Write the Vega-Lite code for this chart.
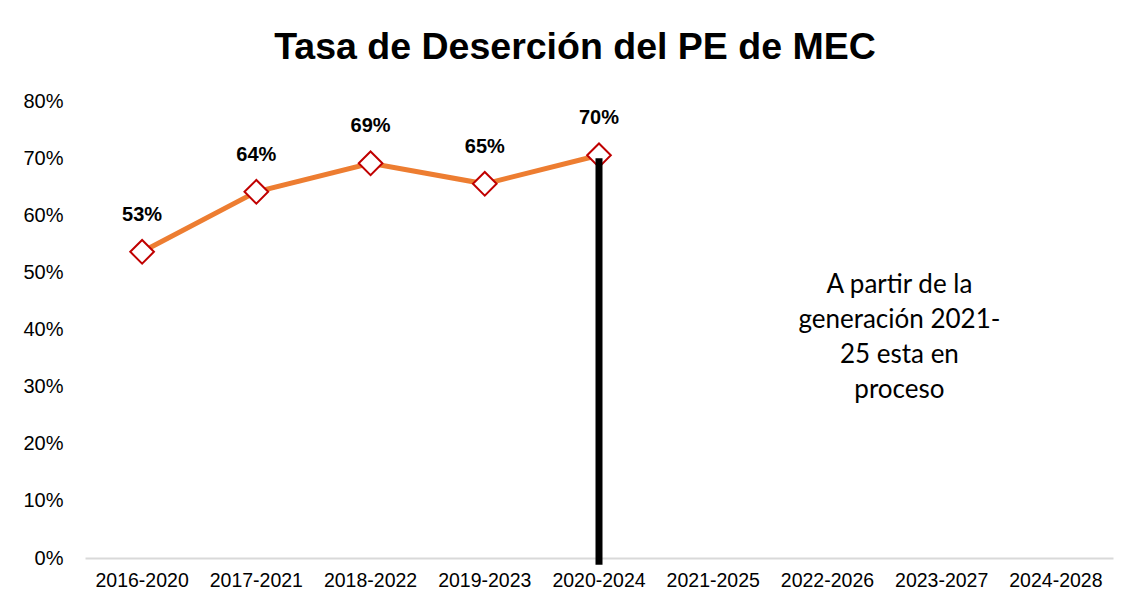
{
  "$schema": "https://vega.github.io/schema/vega-lite/v6.json",
  "autosize": {"type": "none"},
  "width": 1028,
  "height": 457,
  "padding": {"left": 85, "top": 101, "right": 22, "bottom": 56},
  "background": "white",
  "config": {"view": {"stroke": null}, "font": "Liberation Sans"},
  "title": {
    "text": "Tasa de Deserción del PE de MEC",
    "font": "Liberation Sans",
    "fontSize": 37.5,
    "fontWeight": "bold",
    "color": "#000000",
    "anchor": "middle",
    "baseline": "alphabetic",
    "offset": -5,
    "dx": -24
  },
  "datasets": {
    "main": [
      {"gen": "2016-2020", "tasa": 53.6, "label": "53%"},
      {"gen": "2017-2021", "tasa": 64.1, "label": "64%"},
      {"gen": "2018-2022", "tasa": 69.1, "label": "69%"},
      {"gen": "2019-2023", "tasa": 65.5, "label": "65%"},
      {"gen": "2020-2024", "tasa": 70.5, "label": "70%"},
      {"gen": "2021-2025"},
      {"gen": "2022-2026"},
      {"gen": "2023-2027"},
      {"gen": "2024-2028"}
    ],
    "bar": [{"gen": "2020-2024", "top": 70.0, "bottom": -1.2}],
    "note": [{"gen": "2023-2027", "y": 47.8, "text": "A partir de la\ngeneración 2021-\n25 esta en\nproceso"}]
  },
  "encoding": {
    "x": {
      "field": "gen",
      "type": "nominal",
      "sort": null,
      "scale": {"domain": ["2016-2020","2017-2021","2018-2022","2019-2023","2020-2024","2021-2025","2022-2026","2023-2027","2024-2028"], "paddingInner": 0, "paddingOuter": 0},
      "axis": {
        "title": null,
        "labelAngle": 0,
        "labelFont": "Liberation Sans",
        "labelFontSize": 19.5,
        "labelColor": "#000000",
        "labelPadding": 13,
        "ticks": false,
        "domainColor": "#d9d9d9",
        "domainWidth": 2,
        "grid": false
      }
    }
  },
  "layer": [
    {
      "data": {"name": "main"},
      "mark": {"type": "line", "color": "#ED7D31", "strokeWidth": 5},
      "encoding": {
        "y": {
          "field": "tasa",
          "type": "quantitative",
          "scale": {"domain": [0, 80], "nice": false},
          "axis": {
            "title": null,
            "values": [0, 10, 20, 30, 40, 50, 60, 70, 80],
            "labelExpr": "datum.value + '%'",
            "labelFont": "Liberation Sans",
            "labelFontSize": 20,
            "labelColor": "#000000",
            "labelPadding": 22,
            "ticks": false,
            "domain": false,
            "grid": false
          }
        }
      }
    },
    {
      "data": {"name": "main"},
      "mark": {"type": "point", "shape": "diamond", "filled": true, "fill": "#ffffff", "stroke": "#C00000", "strokeWidth": 2, "size": 560, "opacity": 1},
      "encoding": {"y": {"field": "tasa", "type": "quantitative"}}
    },
    {
      "data": {"name": "main"},
      "mark": {"type": "text", "font": "Liberation Sans", "fontSize": 20, "fontWeight": "bold", "color": "#000000", "baseline": "middle", "dy": -37},
      "encoding": {"y": {"field": "tasa", "type": "quantitative"}, "text": {"field": "label"}}
    },
    {
      "data": {"name": "bar"},
      "mark": {"type": "rule", "color": "#000000", "strokeWidth": 7, "clip": false},
      "encoding": {
        "y": {"field": "top", "type": "quantitative"},
        "y2": {"field": "bottom"}
      }
    },
    {
      "data": {"name": "note"},
      "mark": {"type": "text", "font": "Lato", "fontSize": 26, "lineHeight": 35, "color": "#000000", "align": "center", "baseline": "middle", "lineBreak": "\n"},
      "encoding": {
        "x": {"field": "gen", "type": "nominal", "bandPosition": 0.13},
        "y": {"field": "y", "type": "quantitative"},
        "text": {"field": "text"}
      }
    }
  ]
}
